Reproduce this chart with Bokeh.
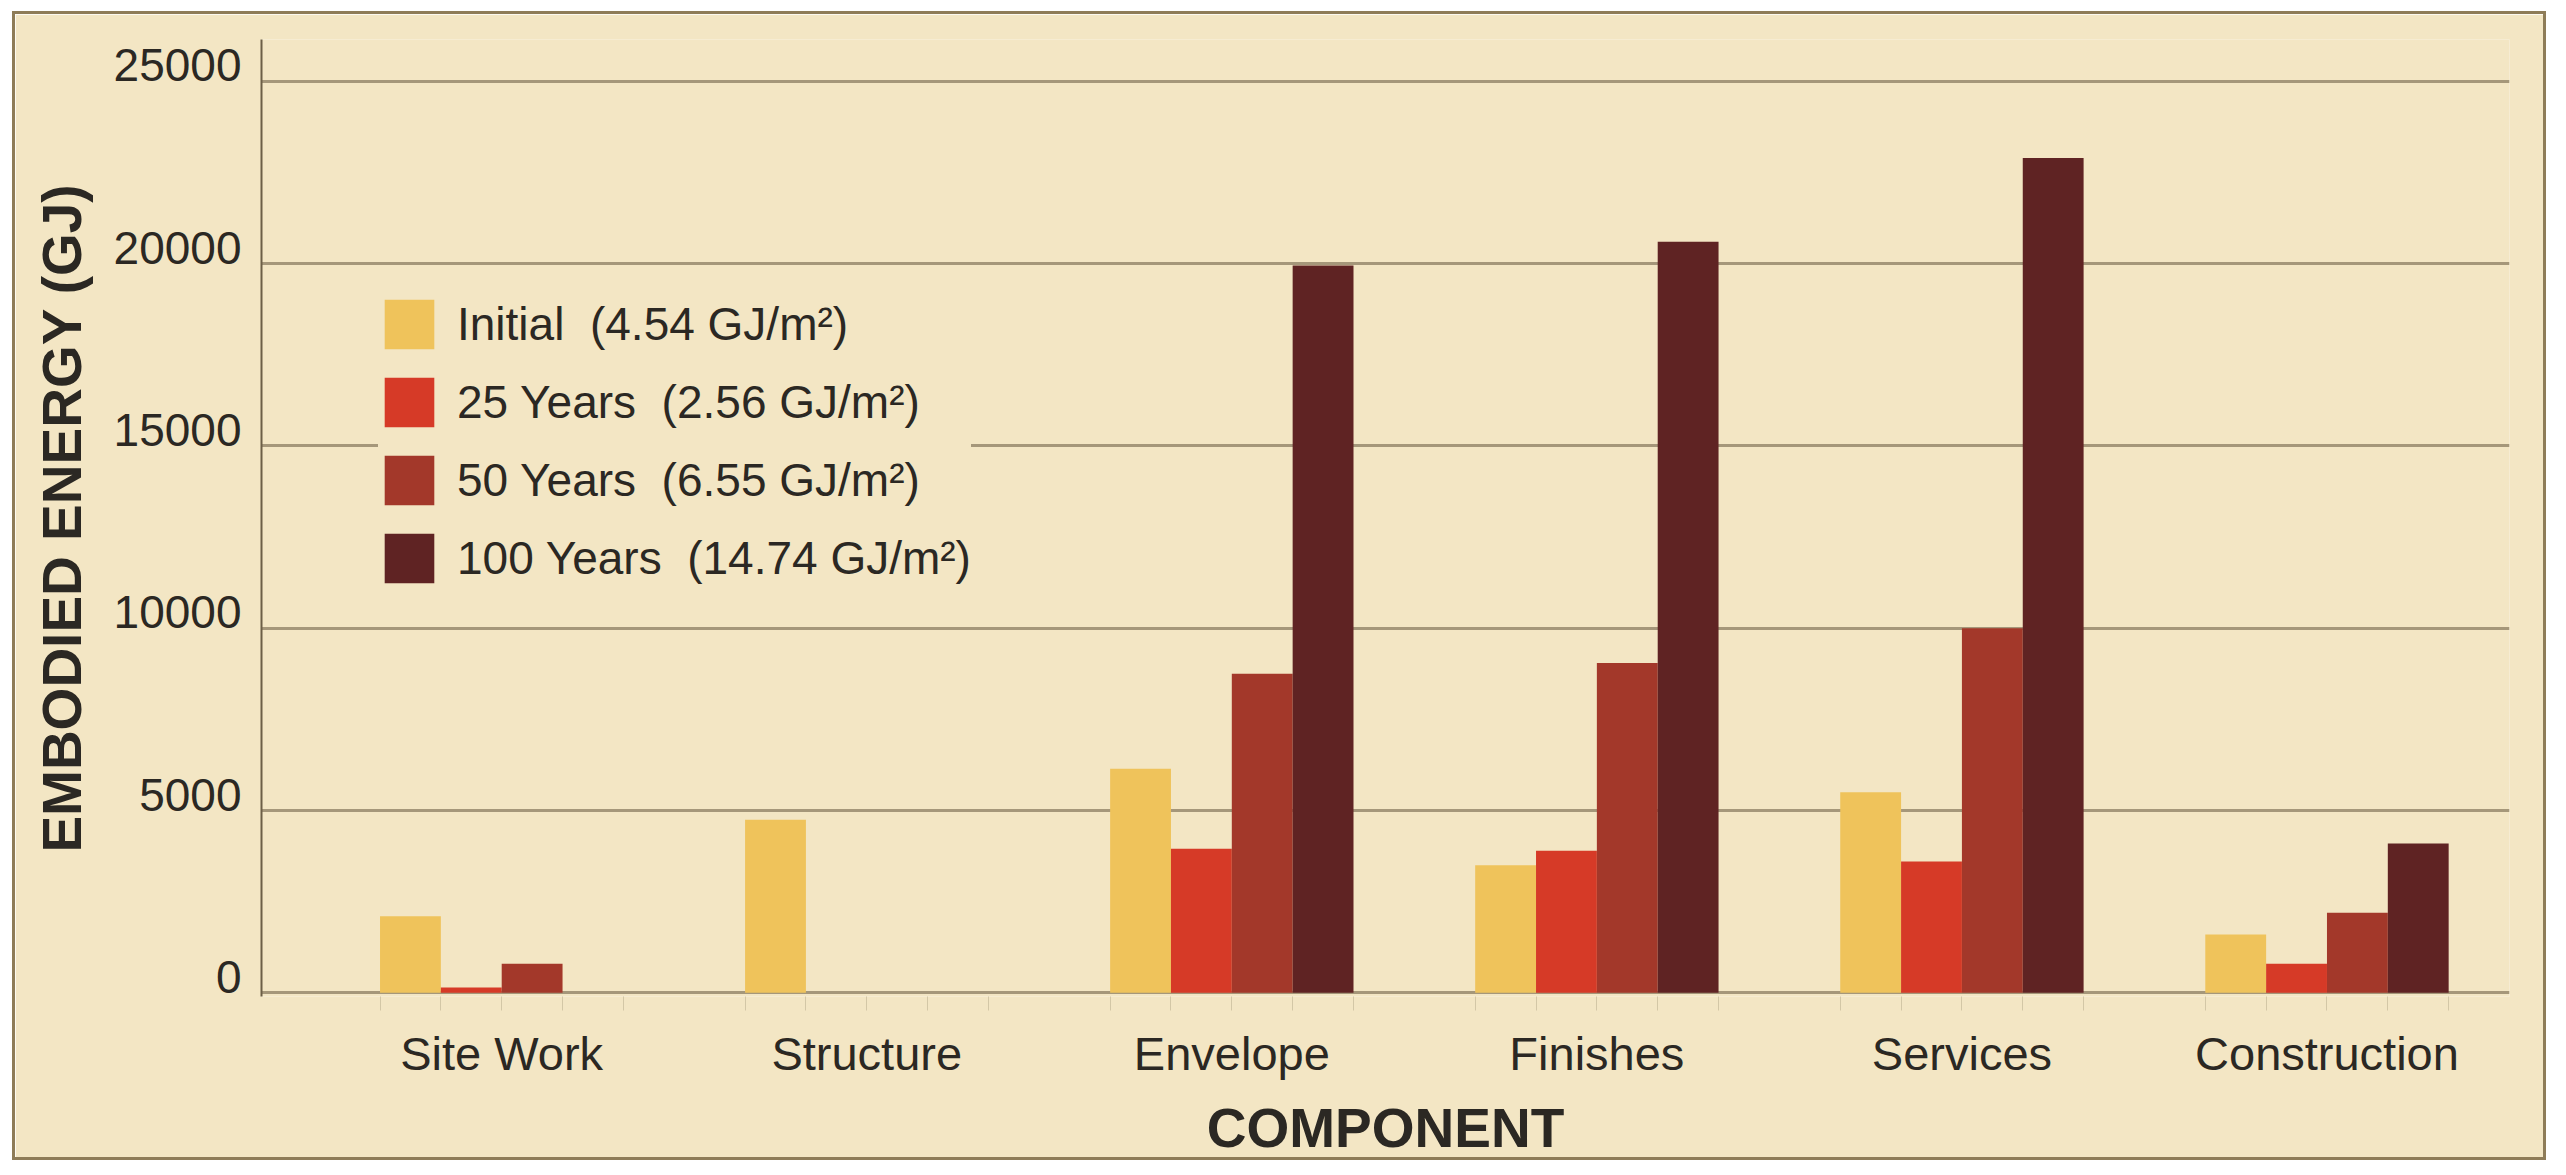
from bokeh.plotting import figure
from bokeh.models import Range1d, LinearAxis, FixedTicker, Grid, Legend, LegendItem, ColumnDataSource
from bokeh.transform import dodge
from bokeh.embed import file_html
from bokeh.resources import INLINE

# ---- data ----
components = ["Site Work", "Structure", "Envelope", "Finishes", "Services", "Construction"]
initial = [2100, 4750, 6150, 3500, 5500, 1600]
years_25 = [150, 0, 3950, 3900, 3600, 800]
years_50 = [800, 0, 8750, 9050, 10000, 2200]
years_100 = [0, 0, 19950, 20600, 22900, 4100]
series_labels = ["Initial  (4.54 GJ/m²)", "25 Years  (2.56 GJ/m²)",
                 "50 Years  (6.55 GJ/m²)", "100 Years  (14.74 GJ/m²)"]
y_ticks = [0, 5000, 10000, 15000, 20000, 25000]

# ---- style ----
BG = "#F3E6C4"
TEXT = "#2b2823"
FONT = "Liberation Sans"
colors = ["#EFC35B", "#D63A27", "#A3382A", "#5F2323"]

xpos = list(range(len(components)))
source = ColumnDataSource(dict(x=xpos, initial=initial, y25=years_25, y50=years_50, y100=years_100))

p = figure(width=2534, height=1149,
           x_range=Range1d(-0.658, 5.5), y_range=Range1d(-100, 26150),
           x_axis_type=None, y_axis_type=None,
           output_backend="svg", toolbar_location=None,
           background_fill_color=BG, border_fill_color=BG, outline_line_color=None,
           min_border_left=246, min_border_right=40, min_border_top=25, min_border_bottom=167)
p.styles = {"border": "3px solid #8e7c58", "margin": "11px 0 0 12px"}

# gridlines
p.add_layout(Grid(dimension=1, ticker=FixedTicker(ticks=y_ticks),
                  grid_line_color="#a5977a", grid_line_width=3))

w = 1 / 6
fields = ["initial", "y25", "y50", "y100"]
offsets = [-1.5 * w, -0.5 * w, 0.5 * w, 1.5 * w]
renderers = []
for f, off, c in zip(fields, offsets, colors):
    r = p.vbar(x=dodge("x", off), top=f, bottom=0, width=w, source=source,
               fill_color=c, line_color=None)
    renderers.append(r)

# x axis
edges = sorted(set(round(i + k * w, 6) for i in xpos for k in (-2, -1, 1, 2)))
xaxis = LinearAxis(ticker=FixedTicker(ticks=xpos, minor_ticks=edges),
                   major_label_overrides={i: n for i, n in zip(xpos, components)},
                   axis_label="COMPONENT",
                   axis_line_color=None,
                   major_tick_out=14, major_tick_in=0, minor_tick_out=14, minor_tick_in=0,
                   major_tick_line_color="#d3c7a6", minor_tick_line_color="#d3c7a6",
                   major_label_standoff=16,
                   major_label_text_font=FONT, major_label_text_font_size="47px",
                   major_label_text_color=TEXT,
                   axis_label_standoff=14,
                   axis_label_text_font=FONT, axis_label_text_font_size="55px",
                   axis_label_text_font_style="bold", axis_label_text_color=TEXT)
p.add_layout(xaxis, "below")

# y axis (labels sit just above their gridlines)
shift = 440
p.extra_y_ranges = {"ylab": Range1d(-100 - shift, 26150 - shift)}
yaxis = LinearAxis(y_range_name="ylab", ticker=FixedTicker(ticks=y_ticks),
                   axis_label="EMBODIED ENERGY (GJ)",
                   axis_line_color="#6c5f47", axis_line_width=2,
                   major_tick_out=0, major_tick_in=0, minor_tick_out=0, minor_tick_in=0,
                   major_label_standoff=20,
                   major_label_text_font=FONT, major_label_text_font_size="46px",
                   major_label_text_color=TEXT,
                   axis_label_standoff=18,
                   axis_label_text_font=FONT, axis_label_text_font_size="55px",
                   axis_label_text_font_style="bold", axis_label_text_color=TEXT)
p.add_layout(yaxis, "left")

legend = Legend(items=[LegendItem(label=l, renderers=[r]) for l, r in zip(series_labels, renderers)],
                location=(117, 407), orientation="vertical",
                glyph_width=62, glyph_height=62, spacing=16, padding=0, margin=0,
                label_standoff=17, label_text_font=FONT, label_text_font_size="46px",
                label_text_color=TEXT, border_line_color=None,
                background_fill_color=BG, background_fill_alpha=1.0)
p.add_layout(legend)

open("out.html", "w").write(file_html(p, INLINE))
